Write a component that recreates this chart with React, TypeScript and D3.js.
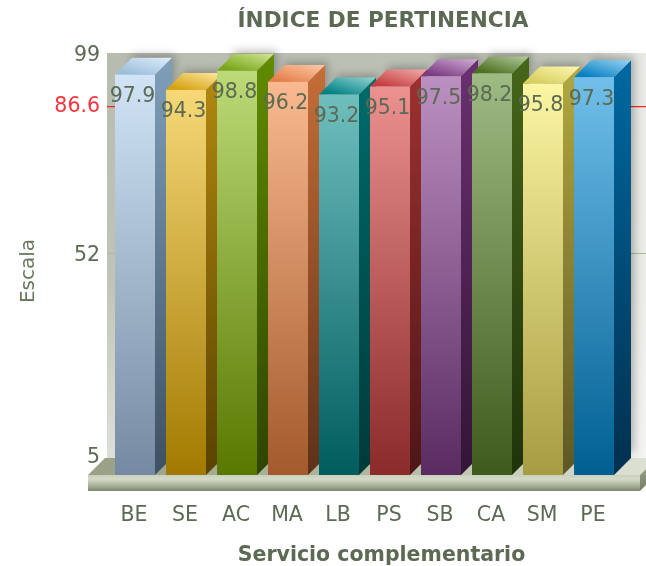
import React from "react";
import * as d3 from "d3";

const categories = ["BE", "SE", "AC", "MA", "LB", "PS", "SB", "CA", "SM", "PE"];
const values = [97.9, 94.3, 98.8, 96.2, 93.2, 95.1, 97.5, 98.2, 95.8, 97.3];
const frontTop = ["#d0e4f6", "#f6d878", "#bcdb78", "#fab990", "#70bfbf", "#ec9090", "#bd90c2", "#9fbb84", "#fcf5a2", "#70bfea"];
const frontBottom = ["#758aa2", "#a27a00", "#587800", "#a35a2c", "#005c5e", "#8a2a2a", "#592b61", "#3e5a1c", "#a69c42", "#005f92"];
const sideTop = ["#7f9fba", "#b2880f", "#618c00", "#c66e38", "#006b6b", "#9e3131", "#6b3071", "#46661a", "#b2a840", "#0069a2"];
const sideBottom = ["#3e5062", "#5a4200", "#2e4400", "#5e3119", "#003a3a", "#4e1616", "#331536", "#1f330a", "#5d5726", "#00304e"];
const topDark = ["#9cbedb", "#d6a214", "#78a618", "#e5804a", "#008284", "#c63e40", "#7a3b82", "#4d7020", "#d8cf5e", "#0a80c2"];
const topLight = ["#e0eefb", "#ffeaa4", "#d2e696", "#fdcbaa", "#94d3d3", "#f2abab", "#d2add6", "#b4cc9e", "#fdf8b4", "#96d4f4"];
const ticks = [99, 52, 5];
const refValue = 86.6;
const title = "ÍNDICE DE PERTINENCIA";
const xTitle = "Servicio complementario";
const yTitle = "Escala";

const W = 646;
const H = 566;
const font = "'DejaVu Sans', Verdana, sans-serif";
const depth = 17;
const floorFrontY = 475;
const floorH = 16;
const wallLeft = 107;
const wallTop = 53;
const floorBackY = floorFrontY - depth;
const floorRight = 640;
const textColor = "#5b6a52";

export default function App() {
  const y = d3.scaleLinear().domain([5, 99]).range([453, 54]);
  const x = d3.scaleBand<string>().domain(categories).range([115, 614]).paddingInner(11 / 51).paddingOuter(0);
  const poly = d3.line<[number, number]>().curve(d3.curveLinearClosed);
  const bw = x.bandwidth();

  const labelY = (t: number) => (t === 5 ? 456 : t === 99 ? 54 : y(t) + 0.5);

  return (
    <svg
      width={W}
      height={H}
      viewBox={`0 0 ${W} ${H}`}
      style={{ position: "absolute", left: 0, top: 0, display: "block", background: "#fff" }}
      fontFamily={font}
    >
      <defs>
        <filter id="soft" x="-5%" y="-20%" width="110%" height="140%">
          <feGaussianBlur stdDeviation="0.5" />
        </filter>
        <filter id="shadow" x="-40%" y="-10%" width="180%" height="120%">
          <feGaussianBlur stdDeviation="4" />
        </filter>
        <linearGradient id="wallV" x1="0" y1="0" x2="0" y2="1">
          <stop offset="0" stopColor="#b8bcb0" />
          <stop offset="0.55" stopColor="#c0c4b6" />
          <stop offset="1" stopColor="#dcdfd6" />
        </linearGradient>
        <linearGradient id="wallFade" x1="0" y1="0" x2="1" y2="0">
          <stop offset="0" stopColor="#fff" stopOpacity="0" />
          <stop offset="0.88" stopColor="#fff" stopOpacity="0.1" />
          <stop offset="0.97" stopColor="#fff" stopOpacity="0.55" />
          <stop offset="1" stopColor="#fff" stopOpacity="0.7" />
        </linearGradient>
        <linearGradient id="floorFront" x1="0" y1="0" x2="0" y2="1">
          <stop offset="0" stopColor="#c8d0ba" />
          <stop offset="0.25" stopColor="#d4dac8" />
          <stop offset="0.65" stopColor="#aab29a" />
          <stop offset="1" stopColor="#7d8870" />
        </linearGradient>
        <linearGradient id="floorTop" x1="0" y1="0" x2="1" y2="0">
          <stop offset="0" stopColor="#98a186" />
          <stop offset="0.5" stopColor="#b0b8a0" />
          <stop offset="1" stopColor="#dfe3d6" />
        </linearGradient>
        <linearGradient id="floorSide" x1="0" y1="0" x2="0" y2="1">
          <stop offset="0" stopColor="#a9b098" />
          <stop offset="1" stopColor="#737d62" />
        </linearGradient>
        {categories.map((c, i) => (
          <React.Fragment key={c}>
            <linearGradient id={`f${i}`} x1="0" y1="0" x2="0" y2="1">
              <stop offset="0" stopColor={frontTop[i]} />
              <stop offset="1" stopColor={frontBottom[i]} />
            </linearGradient>
            <linearGradient id={`s${i}`} x1="0" y1="0" x2="0" y2="1">
              <stop offset="0" stopColor={sideTop[i]} />
              <stop offset="1" stopColor={sideBottom[i]} />
            </linearGradient>
            <linearGradient id={`t${i}`} x1="0" y1="1" x2="1" y2="0">
              <stop offset="0.15" stopColor={topDark[i]} />
              <stop offset="1" stopColor={topLight[i]} />
            </linearGradient>
          </React.Fragment>
        ))}
      </defs>

      {/* wall */}
      <rect x={wallLeft} y={wallTop} width={W - wallLeft} height={floorBackY - wallTop} fill="url(#wallV)" />
      <rect x={wallLeft} y={wallTop} width={W - wallLeft} height={floorBackY - wallTop} fill="url(#wallFade)" />

      {/* gridlines */}
      <line x1={wallLeft} x2={W} y1={y(52)} y2={y(52)} stroke="#a9bb9b" strokeWidth={1.2} />
      <line x1={wallLeft} x2={W} y1={y(refValue)} y2={y(refValue)} stroke="#ee2b2b" strokeWidth={1.2} />

      {/* floor */}
      <path
        d={poly([[88, floorFrontY], [wallLeft - 2, floorBackY], [floorRight + depth, floorBackY], [floorRight, floorFrontY]]) ?? ""}
        fill="url(#floorTop)"
      />
      <rect x={88} y={floorFrontY} width={floorRight - 88} height={floorH} fill="url(#floorFront)" />
      <path
        d={poly([[floorRight, floorFrontY], [floorRight + depth, floorBackY], [floorRight + depth, floorBackY + floorH], [floorRight, floorFrontY + floorH]]) ?? ""}
        fill="url(#floorSide)"
      />

      {/* shadows */}
      <g filter="url(#shadow)">
        {categories.map((c, i) => {
          const x0 = x(c) as number;
          const yt = y(values[i]) + depth - 1;
          return (
            <path
              key={c}
              d={
                poly([
                  [x0 + depth, yt - depth - 3],
                  [x0 + bw + depth + 3, yt - depth - 3],
                  [x0 + bw + depth + 3, floorBackY - 6],
                  [x0 + depth, floorBackY - 6],
                ]) ?? ""
              }
              fill="#000"
              opacity={0.26}
            />
          );
        })}
      </g>

      {/* bars */}
      {categories.map((c, i) => {
        const x0 = x(c) as number;
        const yt = y(values[i]) + depth - 1;
        return (
          <g key={c}>
            <path
              d={poly([[x0 + bw, yt], [x0 + bw + depth, yt - depth], [x0 + bw + depth, floorBackY], [x0 + bw, floorFrontY]]) ?? ""}
              fill={`url(#s${i})`}
            />
            <path
              d={poly([[x0, yt], [x0 + depth, yt - depth], [x0 + bw + depth, yt - depth], [x0 + bw, yt]]) ?? ""}
              fill={`url(#t${i})`}
            />
            <rect x={x0} y={yt} width={bw} height={floorFrontY - yt} fill={`url(#f${i})`} />
          </g>
        );
      })}

      <g filter="url(#soft)">
        {/* value labels */}
        {categories.map((c, i) => (
          <text
            key={c}
            x={(x(c) as number) + bw / 2 - 2.5}
            y={y(values[i]) + depth - 1 + 20}
            dy="0.36em"
            textAnchor="middle"
            fontSize={20.5}
            fill={textColor}
          >
            {values[i]}
          </text>
        ))}

        {/* axis ticks */}
        {ticks.map((t) => (
          <text key={t} x={100} y={labelY(t)} dy="0.36em" textAnchor="end" fontSize={20.5} fill={textColor}>
            {t}
          </text>
        ))}
        <text x={100} y={105} dy="0.36em" textAnchor="end" fontSize={20.5} fill="#f8343c">
          {refValue}
        </text>

        {/* category labels */}
        {categories.map((c) => (
          <text
            key={c}
            x={(x(c) as number) + bw / 2 - 1}
            y={514}
            dy="0.36em"
            textAnchor="middle"
            fontSize={20.5}
            fill={textColor}
          >
            {c}
          </text>
        ))}

        <text x={383} y={19} dy="0.36em" textAnchor="middle" fontSize={21.6} fontWeight="bold" fill={textColor}>
          {title}
        </text>
        <text x={381.5} y={554} dy="0.36em" textAnchor="middle" fontSize={20.5} fontWeight="bold" fill={textColor}>
          {xTitle}
        </text>
        <text
          transform="translate(27,271) rotate(-90)"
          dy="0.36em"
          textAnchor="middle"
          fontSize={20}
          fill="#6a7860"
        >
          {yTitle}
        </text>
      </g>
    </svg>
  );
}
